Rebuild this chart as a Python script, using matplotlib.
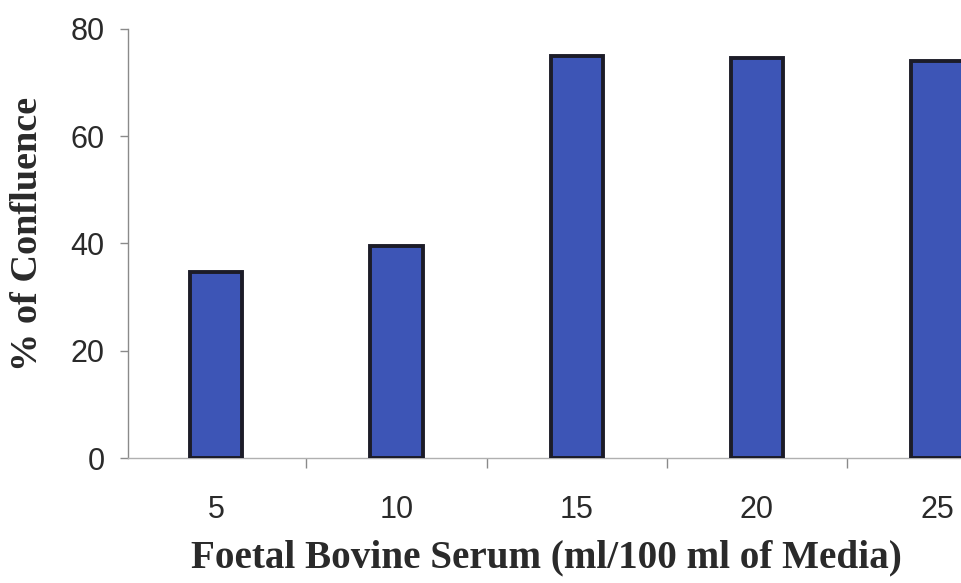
import matplotlib.pyplot as plt
import numpy as np

# FBS concentration vs. confluence
serum_levels = ["5", "10", "15", "20", "25"]
confluence = [34.7, 39.6, 74.9, 74.5, 74.1]

BAR_COLOR = "#3d55b6"
EDGE_COLOR = "#1c1c28"
AXIS_COLOR = "#8a8a8a"

fig = plt.figure(figsize=(9.62, 5.83), dpi=100)
# axes run past the right edge of the figure, so the last bar is cut off
ax = fig.add_axes([128 / 962, 1 - 458 / 583, 901 / 962, 429 / 583])

x = np.arange(len(serum_levels))
ax.bar(x, confluence, width=0.29, color=BAR_COLOR,
       edgecolor=EDGE_COLOR, linewidth=2.8, zorder=3)

ax.set_xlim(-0.49, 4.51)
ax.set_ylim(0, 80)
ax.set_yticks([0, 20, 40, 60, 80])

# category labels centred under bars, tick marks between categories
ax.set_xticks(x)
ax.set_xticklabels(serum_levels)
ax.set_xticks(np.arange(0.5, len(serum_levels), 1.0), minor=True)
ax.tick_params(axis="x", which="major", length=0, pad=27,
               labelsize=22, labelcolor="#2a2a2a")
ax.tick_params(axis="x", which="minor", length=7, width=1.0,
               color=AXIS_COLOR, direction="out")
ax.tick_params(axis="y", length=6, width=1.0, color=AXIS_COLOR,
               pad=11, labelsize=22, labelcolor="#2a2a2a")

for lab in ax.get_xticklabels() + ax.get_yticklabels():
    lab.set_family(["Liberation Sans", "DejaVu Sans"])

for side in ("top", "right"):
    ax.spines[side].set_visible(False)
ax.spines["left"].set_color(AXIS_COLOR)
ax.spines["bottom"].set_color("#b0b0b0")
ax.spines["left"].set_linewidth(1.0)
ax.spines["bottom"].set_linewidth(1.0)

fig.text(546 / 962, 1 - 558 / 583,
         "Foetal Bovine Serum (ml/100 ml of Media)",
         ha="center", va="center", fontsize=28.2, fontweight="bold",
         family="Liberation Serif", color="#2a2a2a")
fig.text(28 / 962, 1 - 234 / 583, "% of Confluence",
         ha="center", va="center", rotation=90, fontsize=27.5,
         fontweight="bold", family="Liberation Serif", color="#2a2a2a")

fig.savefig("out.png", dpi=100)
